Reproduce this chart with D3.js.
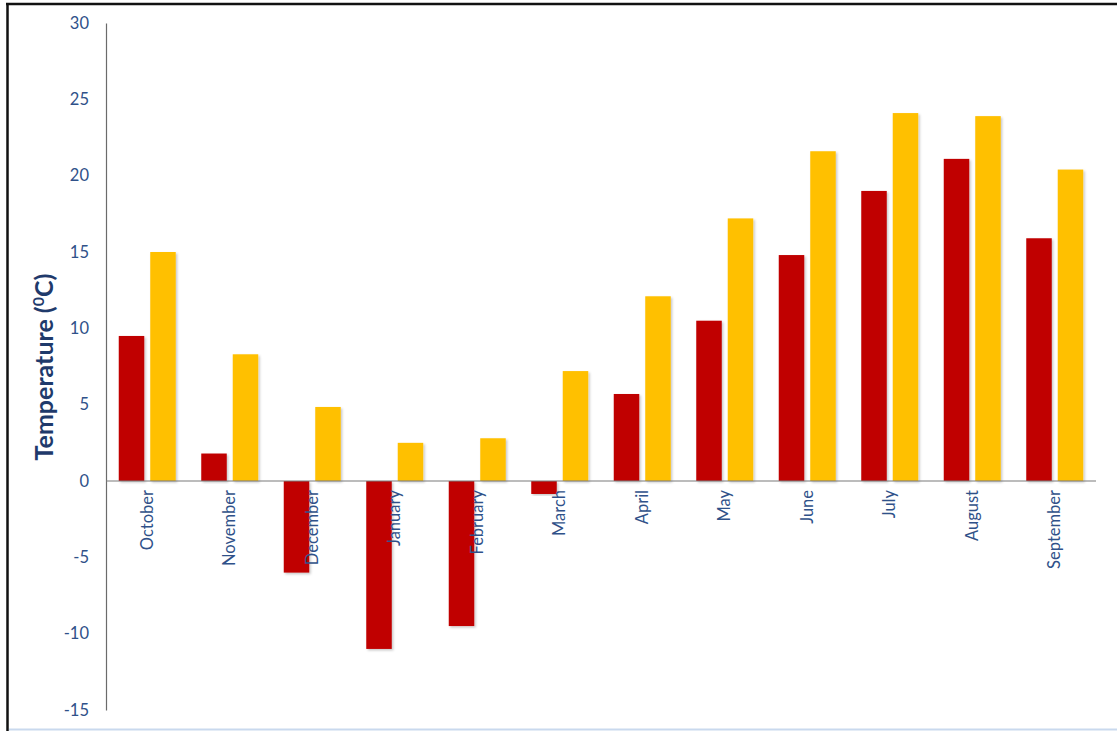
<!DOCTYPE html>
<html><head><meta charset="utf-8">
<script src="https://cdn.jsdelivr.net/npm/d3@7"></script>
<style>body{margin:0;background:#fff;} svg{display:block;}</style>
</head><body>
<script>
const months = ["October","November","December","January","February","March","April","May","June","July","August","September"];
const seriesMin = [9.5,1.8,-6.0,-11.0,-9.5,-0.85,5.7,10.5,14.8,19.0,21.1,15.9];
const seriesMax = [15.0,8.3,4.85,2.5,2.8,7.2,12.1,17.2,21.6,24.1,23.9,20.4];
const yTicks = [30,25,20,15,10,5,0,-5,-10,-15];

const W=1117,H=731;
const svg=d3.select("body").append("svg").attr("width",W).attr("height",H);
const defs=svg.append("defs");
const f=defs.append("filter").attr("id","sh").attr("x","-20%").attr("y","-5%").attr("width","150%").attr("height","115%");
f.append("feDropShadow").attr("dx",1.5).attr("dy",1.5).attr("stdDeviation",1.2).attr("flood-color","#000").attr("flood-opacity",0.22);

// frame
svg.append("line").attr("x1",7.5).attr("x2",7.5).attr("y1",3).attr("y2",H).attr("stroke","#111").attr("stroke-width",2.5);
svg.append("line").attr("x1",6).attr("x2",W).attr("y1",4).attr("y2",4).attr("stroke","#111").attr("stroke-width",2.5);
svg.append("line").attr("x1",9).attr("x2",W).attr("y1",729.5).attr("y2",729.5).attr("stroke","#c9d9ee").attr("stroke-width",2);

const y=d3.scaleLinear().domain([-15,30]).range([710,23]);
const x=d3.scaleBand().domain(months).range([106,1096]).paddingInner(0).paddingOuter(0);
const x1=d3.scaleBand().domain(["min","max"]).range([0,x.bandwidth()]).paddingInner(0.19).paddingOuter(0.405);

const font="Lato, 'Open Sans', sans-serif";
const blue="#2f5189";

// y axis
const yAxis=d3.axisLeft(y).tickValues(yTicks).tickSize(0).tickPadding(17).tickFormat(d=>String(d));
const ga=svg.append("g").attr("transform","translate(106,0)").call(yAxis);
ga.select(".domain").attr("stroke","#6b6b6b").attr("stroke-width",1.2);
ga.selectAll("text").attr("font-family",font).attr("font-size",16.5).attr("fill",blue);

// bars
const groups=svg.append("g").selectAll("g").data(months).join("g").attr("transform",d=>`translate(${x(d)},0)`);
groups.append("rect").attr("filter","url(#sh)")
  .attr("x",x1("min")).attr("width",x1.bandwidth())
  .attr("y",(d,i)=>y(Math.max(0,seriesMin[i]))).attr("height",(d,i)=>Math.abs(y(seriesMin[i])-y(0)))
  .attr("fill","#c00000");
groups.append("rect").attr("filter","url(#sh)")
  .attr("x",x1("max")).attr("width",x1.bandwidth())
  .attr("y",(d,i)=>y(Math.max(0,seriesMax[i]))).attr("height",(d,i)=>Math.abs(y(seriesMax[i])-y(0)))
  .attr("fill","#ffc000");

// zero line
svg.append("line").attr("x1",106).attr("x2",1096).attr("y1",y(0)).attr("y2",y(0)).attr("stroke","#7a7a7a").attr("stroke-width",1.2);

// x labels
svg.append("g").selectAll("text").data(months).join("text")
  .attr("transform",d=>`translate(${x(d)+x.bandwidth()/2+5.5},${y(0)+9}) rotate(-90)`)
  .attr("text-anchor","end").attr("font-family",font).attr("font-size",16.5).attr("fill",blue)
  .text(d=>d);

// y title
const t=svg.append("text").attr("transform",`translate(53,367) rotate(-90)`).attr("text-anchor","middle")
  .attr("font-family",font).attr("font-size",25).attr("font-weight","bold").attr("fill","#1f3a6b");
t.append("tspan").text("Temperature (");
t.append("tspan").attr("font-size",16).attr("dy",-9).text("0");
t.append("tspan").attr("dy",9).text("C)");
</script>
</body></html>
